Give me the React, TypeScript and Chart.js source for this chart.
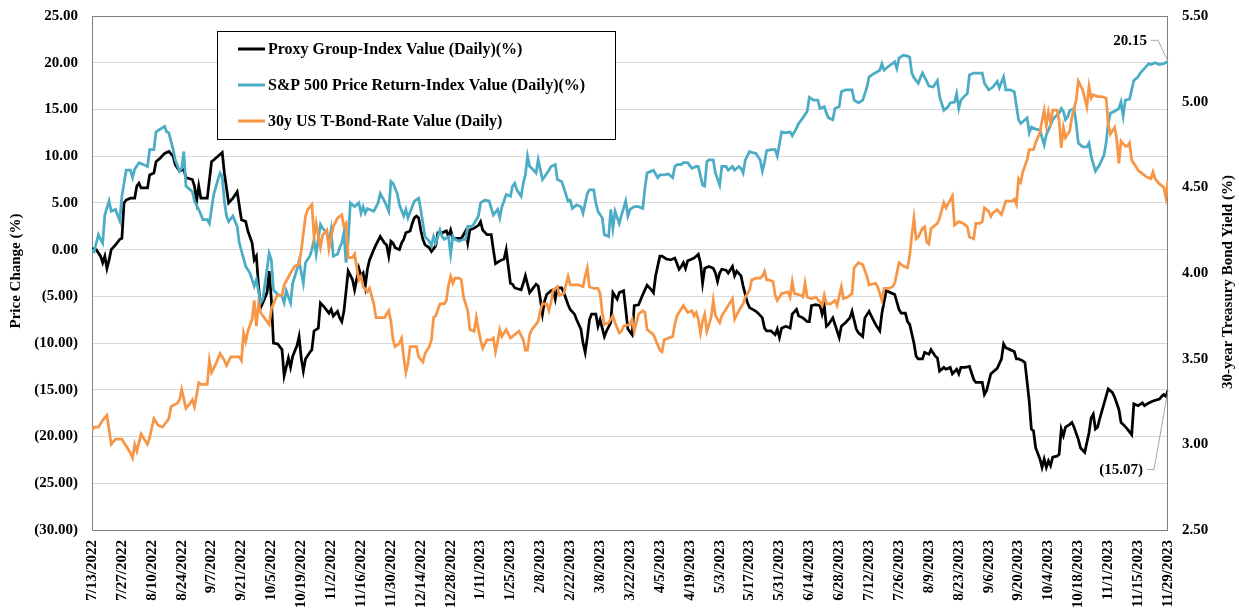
import React, { useEffect, useRef } from "react";
import { Chart, registerables } from "chart.js";

Chart.register(...registerables);

// ---- Data -------------------------------------------------------------
// x = days since the start date (7/13/2022); ticks every 14 days up to 11/29/2023
const START_YEAR = 2022;
const START_MONTH = 7;
const START_DAY = 13;
const X_MAX_DAY = 504;
const X_STEP_DAYS = 14;

const LEFT_MIN = -30;
const LEFT_MAX = 25;
const LEFT_STEP = 5;
const RIGHT_MIN = 2.5;
const RIGHT_MAX = 5.5;
const RIGHT_STEP = 0.5;

const SERIES_LABELS = [
  "Proxy Group-Index Value (Daily)(%)",
  "S&P 500 Price Return-Index Value (Daily)(%)",
  "30y US T-Bond-Rate Value (Daily)",
];
const SERIES_COLORS = ["#000000", "#4bacc6", "#f79646"];
const LEFT_TITLE = "Price Change (%)";
const RIGHT_TITLE = "30-year Treasury Bond Yield (%)";

// [day, value]
const proxyPoints: [number, number][] = [
  [0, 0.1], [2, 0], [4, -0.7], [5, -1.4], [6, -0.7], [7, -2.0], [8, -1.1], [9, 0], [11, 0.5], [13, 1.1],
  [14, 1.2], [15, 5.0], [16, 5.3], [18, 5.5], [20, 5.5], [21, 6.8], [22, 7.1], [23, 6.6], [26, 6.6], [27, 8.0],
  [29, 8.2], [30, 9.4], [32, 9.8], [34, 10.3], [36, 10.5], [38, 10.0], [39, 9.1], [41, 8.4], [43, 8.6], [44, 7.7],
  [47, 7.5], [48, 6.8], [49, 5.2], [50, 6.8], [51, 5.5], [54, 5.5], [56, 9.4], [57, 9.6], [59, 10.0], [61, 10.4],
  [62, 8.2], [64, 5.0], [66, 5.5], [68, 6.2], [70, 3.2], [72, 3.0], [73, 2.0], [75, 0.7], [76, -1.1], [77, -0.7],
  [78, -3.9], [79, -6.2], [80, -5.7], [82, -4.6], [83, -2.3], [84, -5.3], [85, -10.0], [87, -10.1], [89, -10.7], [90, -13.5],
  [92, -11.6], [93, -12.6], [94, -11.4], [96, -10.3], [97, -9.3], [98, -11.6], [99, -13.0], [100, -11.7], [102, -11.0], [103, -10.7],
  [104, -8.7], [106, -8.4], [107, -5.7], [109, -6.2], [111, -6.8], [112, -6.4], [113, -7.1], [115, -6.6], [116, -7.3], [117, -7.7],
  [118, -6.6], [120, -2.3], [122, -3.2], [123, -4.3], [125, -2.0], [126, -2.8], [127, -2.5], [128, -3.9], [129, -2.1], [130, -1.1],
  [132, 0], [133, 0.5], [135, 1.4], [137, 0.7], [138, 0.5], [139, -0.7], [140, 0.9], [141, 0.7], [142, 0.2], [144, 0],
  [145, 0.7], [146, 1.1], [147, 1.8], [149, 2.0], [150, 2.8], [151, 3.4], [152, 3.6], [153, 3.4], [154, 2.1], [155, 1.1],
  [156, 0.5], [158, 0.2], [159, -0.2], [161, 0.4], [162, 1.8], [164, 1.8], [166, 2.0], [167, 1.4], [168, 2.1], [169, 1.2],
  [171, 1.2], [173, 1.2], [175, 2.0], [176, 0.7], [177, 2.1], [179, 2.3], [181, 2.6], [182, 3.0], [183, 2.1], [185, 1.6],
  [187, 1.6], [188, 0], [189, -1.5], [191, -1.2], [193, -1.0], [194, 0], [196, -3.6], [197, -3.7], [198, -4.1], [201, -4.3],
  [202, -3.6], [203, -2.8], [205, -4.6], [206, -4.3], [208, -3.7], [209, -3.9], [210, -5.3], [211, -6.9], [212, -5.5], [213, -4.8],
  [215, -4.4], [216, -4.3], [217, -5.3], [218, -4.1], [220, -4.1], [221, -4.6], [223, -5.9], [224, -6.4], [226, -6.9], [227, -7.5],
  [229, -8.5], [230, -10.0], [231, -11.0], [232, -9.4], [233, -7.5], [234, -6.9], [236, -6.9], [237, -8.2], [238, -7.5], [239, -8.4],
  [240, -9.3], [241, -8.7], [243, -7.8], [244, -4.6], [246, -5.3], [247, -4.6], [249, -4.4], [250, -6.4], [251, -8.5], [253, -9.1],
  [254, -6.0], [256, -5.9], [258, -4.8], [259, -4.3], [260, -3.8], [262, -4.3], [263, -4.6], [264, -2.8], [266, -0.7], [267, -0.7],
  [269, -1.0], [271, -1.1], [273, -0.9], [275, -2.1], [276, -1.8], [277, -1.4], [278, -2.0], [279, -1.2], [280, -1.1], [282, -0.9],
  [283, -0.7], [284, -0.5], [285, -1.4], [286, -3.6], [287, -2.0], [289, -1.8], [291, -2.0], [292, -2.5], [293, -3.4], [294, -2.5],
  [295, -2.1], [297, -2.2], [298, -2.5], [300, -1.8], [301, -2.8], [302, -2.3], [304, -2.8], [305, -3.9], [307, -5.7], [308, -6.2],
  [311, -6.6], [312, -6.8], [314, -7.3], [315, -8.4], [316, -8.7], [318, -8.7], [319, -8.9], [320, -9.1], [321, -8.5], [322, -9.4],
  [323, -8.4], [325, -8.2], [327, -8.4], [328, -6.9], [330, -6.4], [331, -7.1], [333, -7.3], [335, -7.7], [336, -7.7], [337, -6.0],
  [339, -5.9], [341, -6.0], [342, -6.9], [343, -6.0], [344, -8.2], [345, -8.0], [347, -7.3], [348, -8.0], [350, -9.4], [351, -8.2],
  [353, -7.8], [355, -7.3], [356, -6.6], [358, -8.5], [359, -8.9], [361, -9.3], [362, -7.3], [364, -6.6], [365, -7.1], [367, -8.0],
  [369, -8.7], [370, -6.8], [372, -4.4], [374, -4.6], [376, -4.8], [378, -6.4], [379, -6.8], [381, -6.8], [382, -7.7], [383, -8.0],
  [385, -10.0], [386, -11.4], [387, -11.7], [389, -11.7], [390, -11.0], [392, -11.2], [393, -10.7], [395, -11.4], [396, -11.6], [397, -13.0],
  [399, -12.6], [400, -12.8], [402, -12.6], [403, -13.3], [405, -12.8], [406, -13.3], [407, -12.6], [409, -12.6], [411, -12.5], [413, -13.9],
  [414, -14.2], [417, -14.2], [418, -15.5], [419, -15.1], [421, -13.3], [422, -13.1], [424, -12.7], [426, -11.7], [427, -10.1], [428, -10.5],
  [430, -10.7], [432, -10.9], [433, -11.7], [434, -11.7], [436, -11.9], [437, -12.1], [439, -16.2], [440, -19.2], [441, -19.4], [442, -21.2],
  [444, -22.4], [445, -23.3], [446, -22.4], [447, -23.3], [448, -22.6], [449, -23.1], [450, -22.2], [452, -22.1], [453, -21.9], [454, -19.2],
  [455, -19.9], [456, -19.0], [458, -18.7], [459, -18.5], [460, -19.0], [462, -20.3], [463, -21.2], [465, -21.7], [467, -19.6], [468, -18.0],
  [469, -17.6], [470, -19.2], [471, -19.0], [472, -18.1], [474, -16.5], [476, -14.9], [478, -15.3], [479, -15.8], [481, -17.1], [482, -18.5],
  [483, -18.7], [485, -19.2], [487, -19.8], [488, -16.5], [490, -16.7], [492, -16.4], [493, -16.7], [495, -16.4], [497, -16.2], [500, -16.0],
  [501, -15.7], [502, -15.5], [503, -15.7], [504, -15.07],
];

const sp500Points: [number, number][] = [
  [0, 0], [1, -0.2], [3, 1.6], [4, 1.1], [5, 0.7], [6, 3.7], [8, 5.2], [9, 4.1], [11, 4.3], [13, 3.1],
  [14, 5.7], [16, 8.5], [18, 8.5], [19, 7.7], [20, 8.6], [22, 9.3], [24, 9.1], [26, 8.9], [27, 10.7], [29, 10.7],
  [30, 12.6], [32, 12.9], [34, 13.2], [35, 12.6], [36, 12.5], [38, 10.7], [39, 9.6], [41, 8.4], [42, 8.7], [43, 10.5],
  [44, 6.8], [47, 6.2], [48, 5.2], [50, 4.3], [52, 3.2], [54, 3.2], [55, 2.8], [57, 5.9], [59, 7.5], [60, 8.2],
  [61, 7.8], [62, 5.2], [63, 3.6], [64, 3.0], [66, 3.6], [68, 2.5], [69, 0.7], [72, -1.8], [74, -2.5], [76, -3.9],
  [77, -3.2], [79, -5.7], [80, -5.3], [81, -3.7], [83, -0.4], [84, -1.1], [85, -4.3], [87, -4.8], [89, -5.0], [90, -5.7],
  [91, -4.4], [93, -5.7], [94, -3.6], [96, -2.1], [97, -1.2], [99, -3.6], [100, -1.4], [102, -0.7], [103, 0], [104, 1.1],
  [105, -0.5], [107, 2.7], [108, 2.3], [110, 1.8], [111, 0.7], [112, 2.1], [113, -0.7], [115, -0.5], [116, 0.2], [117, 0.7],
  [118, 1.8], [119, -1.4], [120, 0.9], [121, 5.0], [123, 4.6], [125, 5.0], [126, 3.9], [127, 4.6], [128, 3.9], [129, 4.4],
  [130, 4.3], [132, 4.1], [134, 5.0], [135, 6.0], [137, 5.2], [139, 4.1], [140, 7.3], [141, 7.1], [143, 6.0], [144, 4.8],
  [146, 3.6], [147, 4.3], [148, 3.4], [150, 4.6], [151, 5.2], [153, 5.5], [154, 4.3], [155, 2.8], [156, 1.4], [158, 0.9],
  [159, 0.4], [160, 1.4], [161, 0.7], [163, 2.1], [164, 1.4], [165, 1.1], [167, 1.4], [168, -0.5], [169, 1.4], [170, 1.1],
  [172, 0.9], [174, 1.1], [175, 1.1], [176, 2.5], [178, 2.5], [179, 2.8], [181, 3.6], [182, 5.0], [184, 5.3], [186, 5.2],
  [188, 3.7], [190, 4.3], [191, 3.4], [192, 4.6], [193, 5.2], [194, 5.9], [196, 5.7], [197, 6.8], [198, 7.1], [199, 6.4],
  [201, 5.7], [202, 7.1], [203, 8.0], [204, 10.0], [205, 8.9], [206, 8.7], [208, 8.2], [209, 9.6], [211, 7.5], [212, 7.8],
  [214, 8.5], [215, 8.9], [217, 9.1], [218, 7.5], [220, 7.3], [223, 5.2], [224, 5.3], [225, 4.4], [227, 4.8], [229, 4.6],
  [230, 3.9], [232, 6.0], [233, 6.4], [235, 6.4], [236, 5.0], [237, 4.1], [239, 3.4], [240, 1.6], [242, 1.4], [243, 4.3],
  [244, 2.3], [245, 4.1], [247, 2.8], [248, 3.7], [250, 5.2], [251, 3.6], [252, 4.3], [254, 4.6], [256, 4.6], [258, 4.4],
  [259, 6.6], [260, 8.2], [262, 8.4], [263, 8.5], [265, 7.7], [266, 8.0], [268, 8.0], [270, 8.1], [272, 7.7], [273, 8.9],
  [274, 9.1], [276, 9.1], [277, 9.3], [279, 9.3], [281, 8.7], [283, 8.9], [284, 8.9], [286, 6.9], [287, 6.8], [288, 9.4],
  [289, 9.6], [291, 9.6], [292, 8.2], [294, 6.9], [295, 8.9], [297, 8.9], [298, 8.5], [300, 8.9], [301, 8.5], [303, 8.9],
  [304, 8.7], [305, 8.2], [306, 9.6], [308, 10.5], [309, 10.4], [311, 10.3], [313, 9.6], [314, 8.4], [315, 9.3], [316, 10.6],
  [318, 10.7], [320, 10.7], [321, 10.0], [323, 12.6], [325, 12.5], [327, 12.6], [328, 12.2], [330, 13.0], [331, 13.5], [333, 14.1],
  [335, 14.8], [336, 16.3], [338, 16.0], [340, 16.0], [341, 15.1], [343, 15.3], [344, 14.6], [345, 14.1], [347, 13.9], [348, 15.1],
  [350, 15.3], [351, 16.9], [353, 17.1], [356, 17.1], [357, 16.0], [359, 15.7], [361, 16.0], [363, 17.4], [364, 18.5], [366, 18.8],
  [369, 19.2], [370, 19.9], [371, 19.2], [373, 19.6], [376, 20.1], [377, 19.4], [378, 20.5], [380, 20.8], [382, 20.7], [383, 20.6],
  [384, 18.9], [385, 18.4], [387, 17.8], [388, 18.4], [389, 18.9], [391, 18.0], [392, 17.5], [394, 17.4], [396, 18.1], [397, 16.4],
  [399, 14.9], [401, 15.3], [402, 15.7], [404, 15.8], [405, 16.7], [406, 15.1], [407, 16.0], [409, 16.5], [410, 16.7], [411, 18.7],
  [413, 18.9], [415, 18.9], [417, 18.9], [418, 17.8], [420, 17.1], [422, 17.4], [424, 18.0], [425, 17.3], [427, 18.5], [428, 17.1],
  [430, 17.1], [432, 16.9], [434, 13.9], [435, 13.5], [437, 13.9], [438, 14.1], [439, 12.5], [440, 13.1], [442, 12.9], [444, 12.8],
  [446, 11.2], [447, 12.3], [449, 13.3], [450, 13.9], [451, 14.2], [453, 14.6], [454, 15.1], [455, 14.8], [456, 13.9], [457, 14.2],
  [458, 14.9], [460, 15.1], [461, 13.5], [462, 11.4], [464, 11.0], [466, 11.0], [467, 11.4], [468, 10.0], [470, 8.4], [472, 9.1],
  [474, 10.1], [475, 11.4], [476, 13.5], [477, 14.6], [479, 14.8], [481, 15.1], [482, 15.8], [483, 14.3], [484, 16.0], [486, 16.1],
  [488, 18.1], [490, 18.5], [491, 18.9], [493, 19.4], [495, 19.9], [496, 19.8], [498, 20.0], [500, 19.8], [502, 19.9], [504, 20.15],
];

const bondPoints: [number, number][] = [
  [0, 3.08], [1, 3.10], [3, 3.10], [5, 3.14], [7, 3.17], [9, 3.00], [11, 3.03], [14, 3.03], [16, 2.99], [18, 2.95],
  [19, 2.92], [20, 3.00], [21, 2.96], [23, 3.06], [25, 3.02], [26, 3.00], [27, 3.04], [29, 3.15], [31, 3.11], [33, 3.10],
  [36, 3.15], [37, 3.22], [40, 3.24], [41, 3.26], [42, 3.32], [44, 3.21], [46, 3.24], [47, 3.26], [48, 3.22], [50, 3.36],
  [51, 3.35], [54, 3.35], [55, 3.49], [56, 3.42], [58, 3.47], [60, 3.53], [62, 3.49], [63, 3.46], [65, 3.51], [67, 3.51],
  [69, 3.51], [70, 3.49], [71, 3.65], [72, 3.60], [73, 3.66], [75, 3.73], [76, 3.84], [77, 3.69], [78, 3.82], [79, 3.77],
  [80, 3.75], [83, 3.70], [84, 3.79], [86, 3.85], [87, 3.87], [89, 3.87], [90, 3.93], [93, 4.00], [95, 4.04], [97, 4.05],
  [98, 4.13], [100, 4.33], [101, 4.37], [103, 4.40], [104, 4.21], [105, 4.29], [107, 4.15], [108, 4.22], [110, 4.25], [111, 4.14],
  [113, 4.27], [115, 4.32], [117, 4.34], [118, 4.27], [119, 4.29], [120, 4.09], [122, 4.09], [123, 4.11], [125, 3.96], [126, 3.98],
  [127, 3.92], [129, 3.89], [130, 3.91], [132, 3.82], [133, 3.74], [135, 3.74], [137, 3.74], [139, 3.78], [140, 3.72], [141, 3.61],
  [142, 3.57], [144, 3.59], [145, 3.62], [146, 3.51], [147, 3.42], [148, 3.47], [149, 3.57], [151, 3.57], [152, 3.57], [153, 3.51],
  [155, 3.48], [156, 3.53], [158, 3.57], [159, 3.61], [160, 3.74], [161, 3.75], [163, 3.82], [165, 3.82], [166, 3.84], [167, 3.93],
  [168, 3.98], [169, 3.94], [170, 3.97], [172, 3.97], [173, 3.96], [174, 3.86], [176, 3.78], [177, 3.67], [179, 3.66], [180, 3.74],
  [181, 3.67], [182, 3.61], [183, 3.56], [185, 3.61], [187, 3.61], [188, 3.62], [189, 3.54], [190, 3.60], [191, 3.67], [192, 3.63],
  [194, 3.67], [196, 3.62], [198, 3.64], [200, 3.66], [202, 3.61], [203, 3.55], [204, 3.55], [205, 3.64], [206, 3.67], [208, 3.70],
  [209, 3.72], [210, 3.78], [211, 3.82], [213, 3.82], [214, 3.78], [215, 3.83], [216, 3.90], [218, 3.92], [219, 3.87], [221, 3.88],
  [223, 3.98], [224, 3.93], [225, 3.93], [227, 3.93], [228, 3.93], [230, 3.92], [231, 3.98], [232, 4.03], [233, 3.92], [235, 3.91],
  [237, 3.91], [238, 3.88], [239, 3.77], [240, 3.70], [242, 3.71], [244, 3.75], [245, 3.71], [247, 3.65], [248, 3.66], [249, 3.69],
  [252, 3.70], [253, 3.73], [254, 3.66], [256, 3.76], [258, 3.78], [259, 3.77], [260, 3.67], [263, 3.64], [264, 3.61], [266, 3.55],
  [267, 3.54], [268, 3.61], [270, 3.62], [272, 3.63], [273, 3.70], [274, 3.75], [276, 3.79], [277, 3.81], [279, 3.77], [281, 3.78],
  [282, 3.75], [283, 3.77], [284, 3.73], [285, 3.65], [286, 3.72], [287, 3.76], [288, 3.66], [290, 3.74], [291, 3.84], [292, 3.75],
  [294, 3.71], [295, 3.75], [297, 3.79], [299, 3.83], [300, 3.85], [301, 3.73], [303, 3.78], [305, 3.82], [306, 3.86], [308, 3.90],
  [309, 3.96], [311, 3.97], [313, 3.97], [314, 3.98], [315, 4.01], [316, 3.96], [317, 3.96], [319, 3.95], [320, 3.87], [321, 3.84],
  [323, 3.88], [326, 3.89], [327, 3.86], [328, 3.95], [329, 3.88], [332, 3.87], [333, 3.86], [334, 3.94], [335, 3.86], [337, 3.85],
  [339, 3.86], [341, 3.83], [342, 3.81], [343, 3.87], [344, 3.82], [346, 3.82], [348, 3.84], [349, 3.81], [351, 3.92], [352, 3.85],
  [354, 3.86], [356, 3.88], [357, 4.03], [359, 4.06], [361, 4.05], [363, 3.98], [364, 3.93], [367, 3.94], [368, 3.92], [370, 3.84],
  [371, 3.91], [373, 3.91], [375, 3.92], [376, 3.94], [378, 4.06], [380, 4.04], [382, 4.03], [383, 4.10], [384, 4.22], [385, 4.32],
  [386, 4.20], [387, 4.21], [389, 4.26], [390, 4.27], [391, 4.18], [392, 4.17], [393, 4.26], [396, 4.29], [397, 4.32], [399, 4.41],
  [400, 4.38], [403, 4.45], [404, 4.28], [406, 4.30], [408, 4.29], [410, 4.27], [411, 4.21], [413, 4.20], [414, 4.29], [416, 4.29],
  [417, 4.30], [418, 4.38], [420, 4.36], [421, 4.33], [422, 4.35], [424, 4.37], [426, 4.34], [427, 4.38], [428, 4.42], [431, 4.42],
  [432, 4.43], [433, 4.40], [434, 4.55], [435, 4.53], [436, 4.59], [438, 4.66], [439, 4.72], [441, 4.72], [442, 4.76], [444, 4.82],
  [445, 4.89], [446, 4.95], [447, 4.86], [448, 4.94], [449, 4.88], [450, 4.95], [452, 4.95], [453, 4.89], [454, 4.73], [455, 4.85],
  [456, 4.79], [458, 4.83], [459, 4.91], [461, 5.01], [462, 5.12], [464, 5.07], [465, 5.02], [466, 4.97], [467, 5.09], [468, 5.02],
  [469, 5.04], [471, 5.03], [473, 5.03], [475, 5.02], [476, 4.87], [477, 4.81], [479, 4.85], [480, 4.78], [481, 4.64], [482, 4.77],
  [484, 4.74], [485, 4.74], [486, 4.76], [487, 4.66], [489, 4.62], [490, 4.60], [492, 4.58], [494, 4.56], [496, 4.55], [497, 4.59],
  [498, 4.55], [500, 4.52], [502, 4.50], [503, 4.44], [504, 4.54],
];

// ---- Helpers ------------------------------------------------------------
const FONT = '"Liberation Serif", "Times New Roman", serif';
const TICK_SIZE = 15;
const LEGEND_SIZE = 16;

function fmtLeft(v: number): string {
  return v < 0 ? `(${Math.abs(v).toFixed(2)})` : v.toFixed(2);
}
function fmtDay(d: number): string {
  const dt = new Date(START_YEAR, START_MONTH - 1, START_DAY + d);
  return `${dt.getMonth() + 1}/${dt.getDate()}/${dt.getFullYear()}`;
}
function toXY(points: [number, number][]) {
  return points.map(([x, y]) => ({ x, y }));
}

const decorPlugin = {
  id: "decor",
  beforeDatasetsDraw(chart: any) {
    const { ctx, chartArea: a } = chart;
    ctx.save();
    ctx.strokeStyle = "#7f7f7f";
    ctx.lineWidth = 1;
    ctx.strokeRect(Math.round(a.left) + 0.5, Math.round(a.top) + 0.5, Math.round(a.right - a.left) - 1, Math.round(a.bottom - a.top));
    ctx.restore();
  },
  afterDraw(chart: any) {
    const { ctx } = chart;
    ctx.save();
    ctx.fillStyle = "#000";
    ctx.font = `bold ${TICK_SIZE}px ${FONT}`;
    ctx.textAlign = "center";
    ctx.textBaseline = "middle";
    // axis titles
    ctx.save();
    ctx.translate(16, 271);
    ctx.rotate(-Math.PI / 2);
    ctx.fillText(LEFT_TITLE, 0, 0);
    ctx.restore();
    ctx.save();
    ctx.translate(1228, 282);
    ctx.rotate(-Math.PI / 2);
    ctx.fillText(RIGHT_TITLE, 0, 0);
    ctx.restore();

    // legend box
    ctx.fillStyle = "#fff";
    ctx.fillRect(217, 31, 398, 108);
    ctx.strokeStyle = "#000";
    ctx.lineWidth = 1;
    ctx.strokeRect(217.5, 31.5, 398, 108);
    ctx.textAlign = "left";
    ctx.font = `bold ${LEGEND_SIZE}px ${FONT}`;
    SERIES_LABELS.forEach((label, i) => {
      const y = 49 + i * 36;
      ctx.strokeStyle = SERIES_COLORS[i];
      ctx.lineWidth = 3;
      ctx.beginPath();
      ctx.moveTo(238, y);
      ctx.lineTo(265, y);
      ctx.stroke();
      ctx.fillStyle = "#000";
      ctx.fillText(label, 268, y + 1);
    });

    // end-value annotations
    ctx.font = `bold ${TICK_SIZE}px ${FONT}`;
    const drawNote = (dsIndex: number, dx: number, dy: number) => {
      const meta = chart.getDatasetMeta(dsIndex);
      const pt = meta.data[meta.data.length - 1];
      const ds = chart.data.datasets[dsIndex].data;
      const val = ds[ds.length - 1].y;
      const ty = pt.y + dy;
      ctx.strokeStyle = "#a6a6a6";
      ctx.lineWidth = 1;
      ctx.beginPath();
      ctx.moveTo(pt.x + dx + 4, ty);
      ctx.lineTo(pt.x + dx + 11, ty);
      ctx.lineTo(pt.x, pt.y);
      ctx.stroke();
      ctx.fillStyle = "#000";
      ctx.textAlign = "right";
      ctx.fillText(fmtLeft(val), pt.x + dx, ty + 1);
    };
    drawNote(1, -21, -21);
    drawNote(0, -25, 79);
    ctx.restore();
  },
};

export default function App() {
  const ref = useRef<HTMLCanvasElement | null>(null);
  useEffect(() => {
    if (!ref.current) return;
    const chart = new Chart(ref.current, {
      type: "line",
      data: {
        datasets: [
          {
            label: SERIES_LABELS[0],
            data: toXY(proxyPoints),
            borderColor: SERIES_COLORS[0],
            backgroundColor: SERIES_COLORS[0],
            borderWidth: 2.75,
            pointRadius: 0,
            tension: 0,
            yAxisID: "y",
            order: 3,
          },
          {
            label: SERIES_LABELS[1],
            data: toXY(sp500Points),
            borderColor: SERIES_COLORS[1],
            backgroundColor: SERIES_COLORS[1],
            borderWidth: 2.75,
            pointRadius: 0,
            tension: 0,
            yAxisID: "y",
            order: 2,
          },
          {
            label: SERIES_LABELS[2],
            data: toXY(bondPoints),
            borderColor: SERIES_COLORS[2],
            backgroundColor: SERIES_COLORS[2],
            borderWidth: 2.75,
            pointRadius: 0,
            tension: 0,
            yAxisID: "y2",
            order: 1,
          },
        ],
      },
      options: {
        responsive: false,
        animation: false,
        devicePixelRatio: 1,
        layout: { padding: { top: 16, left: 0, right: 0, bottom: 0 } },
        plugins: { legend: { display: false }, tooltip: { enabled: false } },
        scales: {
          x: {
            type: "linear",
            min: 0,
            max: X_MAX_DAY,
            grid: { display: false, drawTicks: false },
            border: { display: false },
            ticks: {
              stepSize: X_STEP_DAYS,
              autoSkip: false,
              maxRotation: 90,
              minRotation: 90,
              padding: 10,
              color: "#000",
              font: { family: FONT, size: TICK_SIZE, weight: "bold" },
              callback: (v: any) => fmtDay(Number(v)),
            },
            afterFit: (s: any) => { s.height = 86; s.paddingLeft = 0; s.paddingRight = 0; },
          },
          y: {
            position: "left",
            min: LEFT_MIN,
            max: LEFT_MAX,
            grid: { color: "#d9d9d9", lineWidth: 1, drawTicks: false },
            border: { display: false },
            ticks: {
              stepSize: LEFT_STEP,
              padding: 14,
              color: "#000",
              font: { family: FONT, size: TICK_SIZE, weight: "bold" },
              callback: (v: any) => fmtLeft(Number(v)),
            },
            afterFit: (s: any) => { s.width = 92; s.paddingTop = 0; s.paddingBottom = 0; },
          },
          y2: {
            position: "right",
            min: RIGHT_MIN,
            max: RIGHT_MAX,
            grid: { display: false, drawTicks: false },
            border: { display: false },
            ticks: {
              stepSize: RIGHT_STEP,
              padding: 14,
              color: "#000",
              font: { family: FONT, size: TICK_SIZE, weight: "bold" },
              callback: (v: any) => Number(v).toFixed(2),
            },
            afterFit: (s: any) => { s.width = 71; s.paddingTop = 0; s.paddingBottom = 0; },
          },
        },
      },
      plugins: [decorPlugin],
    } as any);
    return () => chart.destroy();
  }, []);

  return (
    <div style={{ position: "absolute", left: 0, top: 0, width: 1239, height: 616, background: "#fff" }}>
      <canvas ref={ref} width={1239} height={616} style={{ display: "block" }} />
    </div>
  );
}
